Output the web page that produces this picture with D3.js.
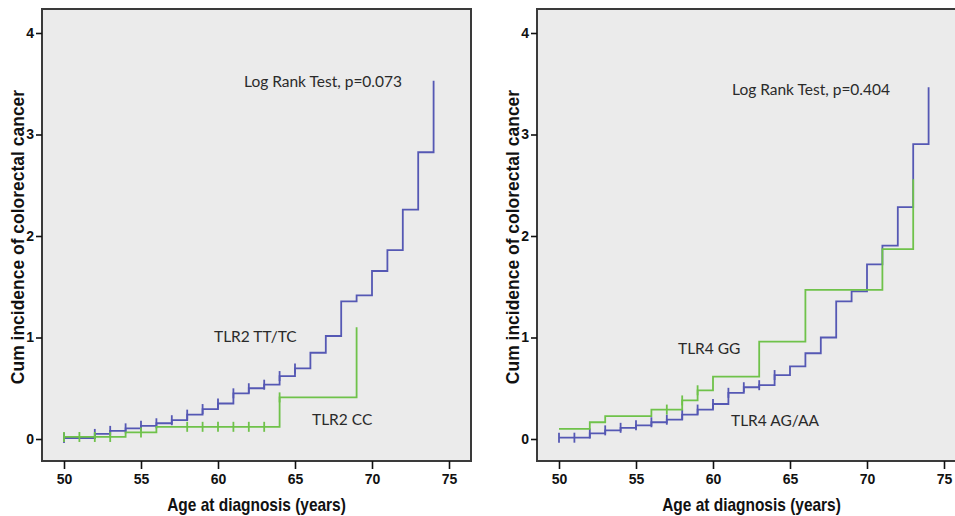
<!DOCTYPE html>
<html>
<head>
<meta charset="utf-8">
<script src="https://cdn.jsdelivr.net/npm/d3@7/dist/d3.min.js"></script>
<style>
  html, body { margin: 0; padding: 0; background: #fff; }
  svg { display: block; }
  .tick-label { font-family: "Liberation Sans Narrow", "Arial Narrow", "Liberation Sans", sans-serif; font-weight: bold; font-size: 14px; fill: #111; }
  .axis-title { font-family: "Liberation Sans Narrow", "Arial Narrow", "Liberation Sans", sans-serif; font-weight: bold; fill: #111; }
  .note { font-family: Lato, "Open Sans", sans-serif; font-size: 15.5px; fill: #2a2a2a; }
</style>
</head>
<body>
<svg id="chart" width="955" height="516"></svg>
<script>
// ---- data ----
const xTicks = [50, 55, 60, 65, 70, 75];
const yTicks = [0, 1, 2, 3, 4];

// left panel: TLR2
const tlr2TTTimes  = [50, 52, 53, 54, 55, 56, 57, 58, 59, 60, 61, 62, 63, 64, 65, 66, 67, 68, 69, 70, 71, 72, 73, 74];
const tlr2TTValues = [0.01, 0.05, 0.08, 0.105, 0.13, 0.155, 0.185, 0.24, 0.295, 0.35, 0.45, 0.5, 0.535, 0.62, 0.695, 0.85, 1.015, 1.355, 1.415, 1.655, 1.86, 2.26, 2.825, 3.53];
const tlr2TTCensored = [50, 52, 53, 54, 55, 56, 57, 58, 59, 60, 61, 62, 63, 64, 65];

const tlr2CCTimes  = [50, 54, 56, 64, 69];
const tlr2CCValues = [0.02, 0.065, 0.12, 0.41, 1.10];
const tlr2CCCensored = [50, 51, 52, 53, 55, 58, 59, 60, 61, 62, 63, 64];

// right panel: TLR4
const tlr4AGTimes  = [50, 52, 53, 54, 55, 56, 57, 58, 59, 60, 61, 62, 63, 64, 65, 66, 67, 68, 69, 70, 71, 72, 73, 74];
const tlr4AGValues = [0.013, 0.055, 0.085, 0.11, 0.135, 0.165, 0.19, 0.24, 0.29, 0.345, 0.455, 0.51, 0.53, 0.63, 0.715, 0.845, 1.0, 1.355, 1.455, 1.72, 1.905, 2.285, 2.905, 3.465];
const tlr4AGCensored = [50, 51, 52, 53, 54, 55, 56, 57, 58, 59, 60, 61, 62, 63, 64];

const tlr4GGTimes  = [50, 52, 53, 56, 58, 59, 60, 63, 66, 71, 73];
const tlr4GGValues = [0.10, 0.165, 0.225, 0.29, 0.38, 0.48, 0.615, 0.96, 1.47, 1.87, 2.56];
const tlr4GGCensored = [57, 58, 59];

const blue = '#5558b4', green = '#6fc24a';

const svg = d3.select('#chart');

// build a series object from the arrays
function series(times, values, censored, color){
  return {pts: times.map((t,i)=>[t, values[i]]), censored, color};
}
function valueAt(s, t){
  let v = s.pts[0][1];
  s.pts.forEach(p=>{ if(p[0] <= t) v = p[1]; });
  return v;
}

function drawPanel(left, cfg){
  const top = 9, bottom = 461, w = 429;
  // x(50)=left+22, x(75)=left+w-22 ; y(0)=439, y(4)=33
  const x = d3.scaleLinear().domain([50, 75]).range([left + 22, left + w - 22]);
  const y = d3.scaleLinear().domain([0, 4]).range([439, 33]);

  const g = svg.append('g');
  g.append('rect').attr('x', left).attr('y', top).attr('width', w).attr('height', bottom - top)
    .attr('fill', '#ebebeb').attr('stroke', '#3a3a3a').attr('stroke-width', 2);

  // y axis
  const ya = g.append('g').attr('transform', `translate(${left},0)`)
    .call(d3.axisLeft(y).tickValues(yTicks).tickSize(6).tickPadding(2).tickFormat(d3.format('d')));
  ya.select('.domain').remove();
  ya.selectAll('line').attr('stroke', '#111').attr('stroke-width', 1.6);
  ya.selectAll('text').attr('class', 'tick-label').attr('font-family', null).attr('font-size', null);

  // x axis
  const xa = g.append('g').attr('transform', `translate(0,${bottom})`)
    .call(d3.axisBottom(x).tickValues(xTicks).tickSize(8).tickPadding(5).tickFormat(d3.format('d')));
  xa.select('.domain').remove();
  xa.selectAll('line').attr('stroke', '#111').attr('stroke-width', 1.6);
  xa.selectAll('text').attr('class', 'tick-label').attr('font-family', null).attr('font-size', null);

  // titles (condensed bold, like the original)
  g.append('text').attr('class', 'axis-title').attr('font-size', 18)
    .attr('transform', `translate(${left + w/2},511) scale(0.86,1)`).attr('text-anchor', 'middle')
    .text('Age at diagnosis (years)');
  g.append('text').attr('class', 'axis-title').attr('font-size', 19)
    .attr('transform', `translate(${left - 18},${(top + bottom)/2 + 2}) rotate(-90) scale(0.92,1)`)
    .attr('text-anchor', 'middle')
    .text('Cum incidence of colorectal cancer');

  const line = d3.line().x(d=>x(d[0])).y(d=>y(d[1])).curve(d3.curveStepAfter);
  cfg.series.forEach(s=>{
    g.append('path').attr('d', line(s.pts)).attr('fill', 'none')
      .attr('stroke', s.color).attr('stroke-width', 1.8);
    g.selectAll(null).data(s.censored).enter().append('line')
      .attr('x1', d=>x(d)).attr('x2', d=>x(d))
      .attr('y1', d=>y(valueAt(s, d)) - 5).attr('y2', d=>y(valueAt(s, d)) + 5)
      .attr('stroke', s.color).attr('stroke-width', 1.8);
  });

  cfg.notes.forEach(n=>{
    g.append('text').attr('class', 'note').attr('x', n.x).attr('y', n.y).attr('dy', '0.35em').text(n.text);
  });
}

drawPanel(42, {
  series: [
    series(tlr2TTTimes, tlr2TTValues, tlr2TTCensored, blue),
    series(tlr2CCTimes, tlr2CCValues, tlr2CCCensored, green)
  ],
  notes: [
    {x: 244, y: 82, text: 'Log Rank Test, p=0.073'},
    {x: 214, y: 337, text: 'TLR2 TT/TC'},
    {x: 312, y: 420, text: 'TLR2 CC'}
  ]
});

drawPanel(537, {
  series: [
    series(tlr4AGTimes, tlr4AGValues, tlr4AGCensored, blue),
    series(tlr4GGTimes, tlr4GGValues, tlr4GGCensored, green)
  ],
  notes: [
    {x: 732, y: 90, text: 'Log Rank Test, p=0.404'},
    {x: 678, y: 349, text: 'TLR4 GG'},
    {x: 731, y: 421, text: 'TLR4 AG/AA'}
  ]
});
</script>
</body>
</html>
